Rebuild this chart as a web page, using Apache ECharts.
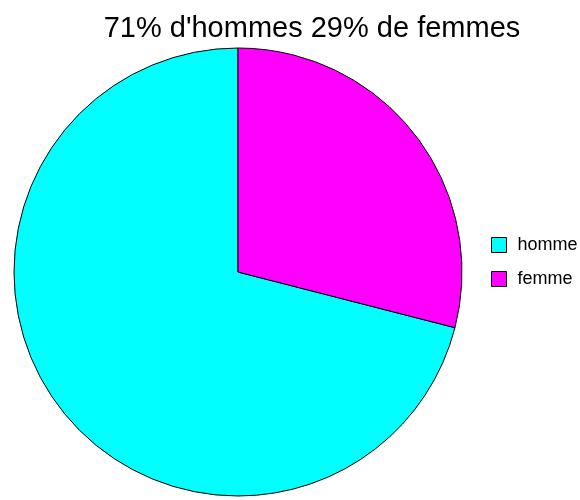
<!DOCTYPE html>
<html><head><meta charset="utf-8">
<script src="https://cdn.jsdelivr.net/npm/echarts@6/dist/echarts.min.js"></script>
<style>html,body{margin:0;padding:0;background:#fff}#c{width:580px;height:500px}</style>
</head><body><div id="c"></div>
<script>
const categories = ['homme', 'femme'];
const values = [71, 29];
const colors = ['#00FFFF', '#FF00FF'];
const titleText = "71% d'hommes 29% de femmes";

const chart = echarts.init(document.getElementById('c'), null, {renderer: 'canvas'});
chart.setOption({
  animation: false,
  backgroundColor: '#fff',
  title: {
    text: titleText, left: 307, top: 9, textAlign: 'center',
    textStyle: {fontFamily: 'Liberation Sans, Arial', fontSize: 29, fontWeight: 'normal', color: '#000'}
  },
  legend: {
    orient: 'vertical', left: 486, top: 231,
    data: categories, icon: 'rect', itemWidth: 15, itemHeight: 15, itemGap: 16,
    textStyle: {fontFamily: 'Liberation Sans, Arial', fontSize: 18, color: '#000', padding: [0,0,0,6]},
    itemStyle: {borderColor: '#000', borderWidth: 1}
  },
  series: [{
    type: 'pie', center: [238, 272], radius: 224,
    startAngle: 90, clockwise: false,
    label: {show: false}, labelLine: {show: false},
    itemStyle: {borderColor: '#000', borderWidth: 1},
    emphasis: {disabled: true},
    data: categories.map((c, i) => ({name: c, value: values[i], itemStyle: {color: colors[i]}}))
  }]
});
</script></body></html>
